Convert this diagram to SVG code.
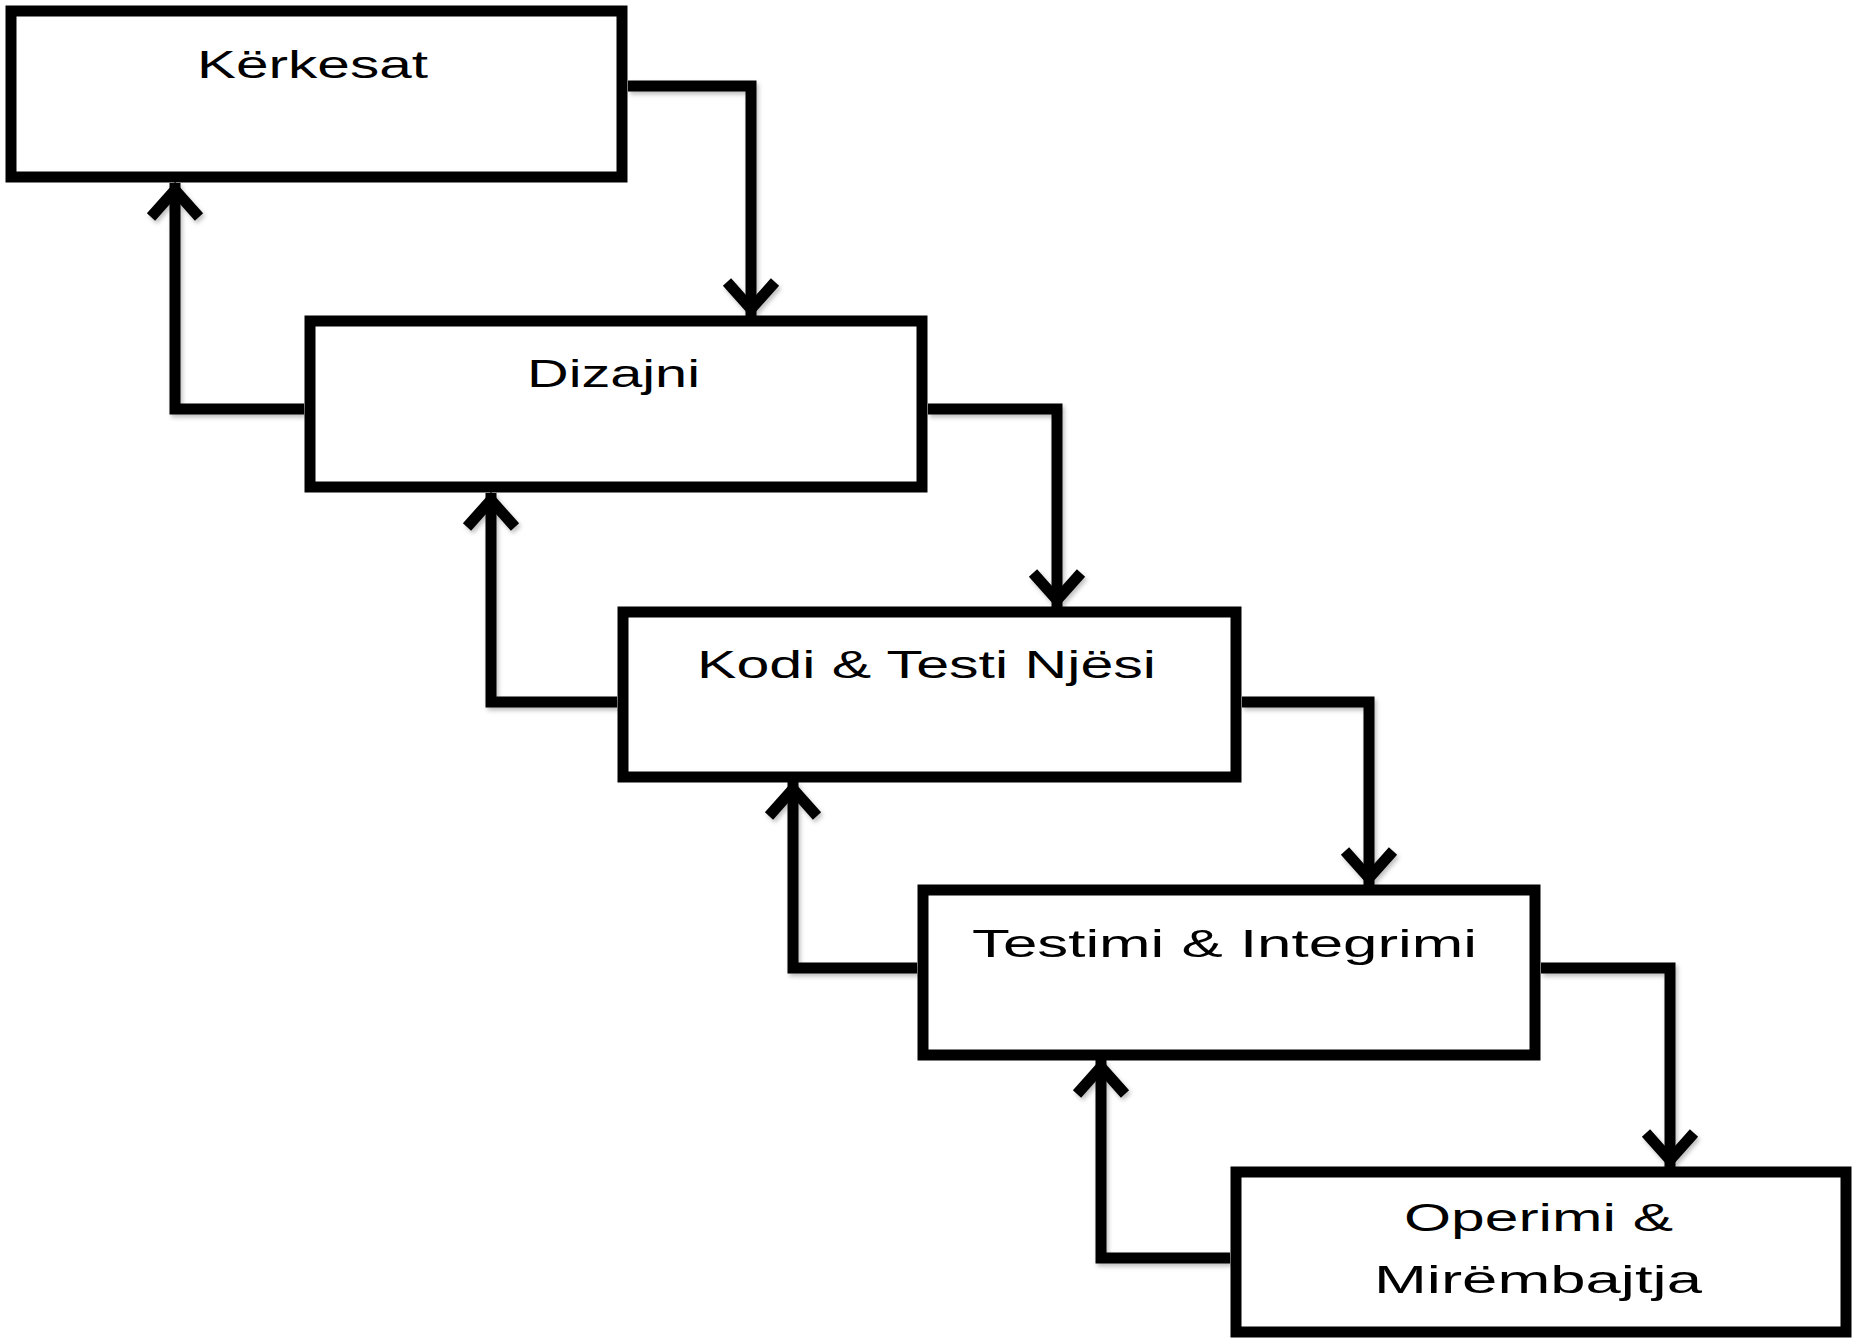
<svg xmlns="http://www.w3.org/2000/svg" width="1854" height="1340" viewBox="0 0 1854 1340">
  <style>
    .box { fill: #fff; stroke: #000; stroke-width: 11; }
    .lbl { font-family: "Liberation Sans", "Open Sans", sans-serif; font-size: 38px; fill: #000; text-anchor: start; }
    .wire { fill: none; stroke: #000; stroke-width: 11; stroke-linejoin: miter; marker-end: url(#head); }
  </style>
  <defs>
    <marker id="head" markerUnits="userSpaceOnUse" orient="auto" refX="0" refY="0" markerWidth="1" markerHeight="1" overflow="visible">
      <path d="M-34,-24 L-7,0 L-34,24" fill="none" stroke="#000" stroke-width="11"/>
    </marker>
    <filter id="soft" x="-5%" y="-5%" width="110%" height="110%">
      <feDropShadow dx="2" dy="3" stdDeviation="2" flood-color="#000" flood-opacity="0.25"/>
    </filter>
  </defs>

  <!-- connectors: forward (down) and feedback (up) flows -->
  <g id="connectors" filter="url(#soft)">
    <path class="wire" d="M628,86 H751 V316"/>
    <path class="wire" d="M304,409 H175 V183"/>
    <path class="wire" d="M928,409 H1057 V607"/>
    <path class="wire" d="M617,702 H491 V493"/>
    <path class="wire" d="M1242,702 H1369 V885"/>
    <path class="wire" d="M917,968 H793 V782"/>
    <path class="wire" d="M1541,968 H1670 V1167"/>
    <path class="wire" d="M1230,1258 H1101 V1060"/>
  </g>

  <g id="kerkesat">
    <rect class="box" x="11" y="11" width="611" height="166"/>
    <text class="lbl" x="197" y="78" textLength="231" lengthAdjust="spacingAndGlyphs">Kërkesat</text>
  </g>

  <g id="dizajni">
    <rect class="box" x="310" y="321" width="612" height="166"/>
    <text class="lbl" x="527" y="387" textLength="173" lengthAdjust="spacingAndGlyphs">Dizajni</text>
  </g>

  <g id="kodi">
    <rect class="box" x="623" y="612" width="613" height="165"/>
    <text class="lbl" x="697" y="678" textLength="459" lengthAdjust="spacingAndGlyphs">Kodi &amp; Testi Njësi</text>
  </g>

  <g id="testimi">
    <rect class="box" x="923" y="890" width="612" height="165"/>
    <text class="lbl" x="972" y="957" textLength="505" lengthAdjust="spacingAndGlyphs">Testimi &amp; Integrimi</text>
  </g>

  <g id="operimi">
    <rect class="box" x="1236" y="1172" width="610" height="160"/>
    <text class="lbl" x="1404" y="1231" textLength="269" lengthAdjust="spacingAndGlyphs">Operimi &amp;</text>
    <text class="lbl" x="1374" y="1293" textLength="328" lengthAdjust="spacingAndGlyphs">Mirëmbajtja</text>
  </g>
</svg>
